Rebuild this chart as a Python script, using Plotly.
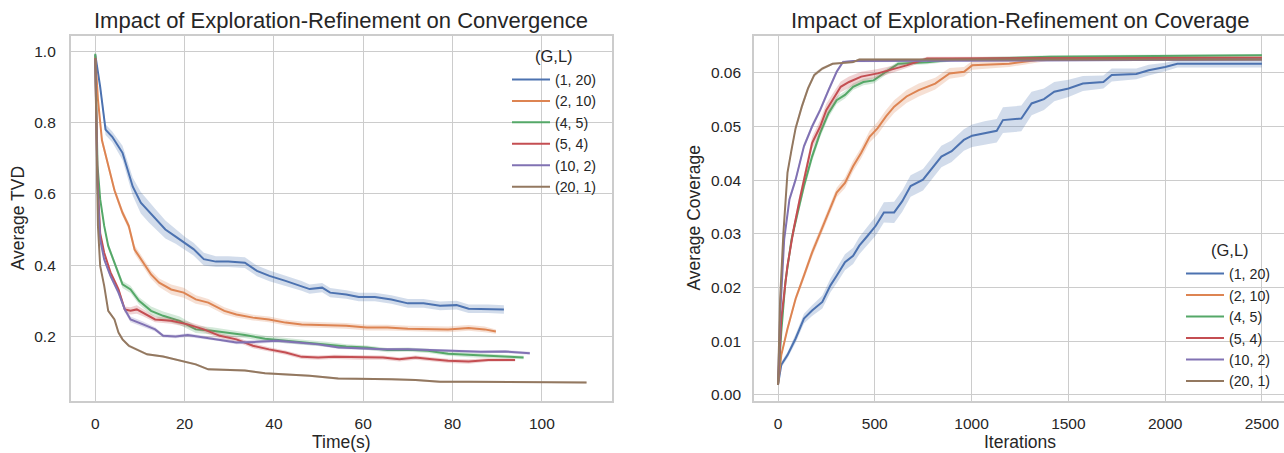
import plotly.graph_objects as go

W, H = 1284, 453
FONT = "Liberation Sans, Arial, sans-serif"
TXT = "#262626"
GRID = "#cccccc"

LABELS = ["(1, 20)", "(2, 10)", "(4, 5)", "(5, 4)", "(10, 2)", "(20, 1)"]
COLORS = ["#4c72b0", "#dd8452", "#55a868", "#c44e52", "#8172b3", "#937860"]
LEGEND_TITLE = "(G,L)"

# ---------------- Left: Average TVD vs Time(s) ----------------
T_1_20 = [0, 1.1, 2.3, 3.8, 6.1, 8.4, 10.2, 12, 13.4, 15.7, 18, 20.2, 22, 24.3, 27, 29.8, 33.5, 36.2, 39, 42.6,
          46.2, 48, 50.8, 52.6, 56.2, 59, 62.6, 66.3, 70, 73.5, 77.2, 80.9, 83.6, 88, 91.5]
TVD_1_20 = [0.99, 0.90, 0.78, 0.76, 0.715, 0.62, 0.575, 0.55, 0.53, 0.50, 0.48, 0.46, 0.445, 0.417, 0.41, 0.41,
            0.407, 0.384, 0.37, 0.356, 0.342, 0.333, 0.337, 0.323, 0.318, 0.311, 0.311, 0.304, 0.293, 0.293,
            0.286, 0.288, 0.278, 0.278, 0.276]
TVD_ERR_1_20 = [0.003, 0.01, 0.015, 0.015, 0.02, 0.025, 0.03, 0.03, 0.028, 0.025, 0.02, 0.018, 0.018, 0.018, 0.015,
                0.015, 0.015, 0.015, 0.015, 0.014, 0.014, 0.013, 0.013, 0.013, 0.012, 0.012, 0.012, 0.012, 0.012,
                0.012, 0.012, 0.012, 0.012, 0.012, 0.012]

T_2_10 = [0, 0.6, 1.5, 2.9, 4.3, 6.1, 7.5, 8.8, 10.7, 12.5, 14.3, 17, 19.8, 22.5, 25.3, 28.9, 31.6, 35.3, 38.9, 42.6,
          46.2, 51.7, 56.2, 60.8, 65.4, 70, 74.5, 79, 83.6, 87.2, 89.7]
TVD_2_10 = [0.986, 0.865, 0.75, 0.68, 0.61, 0.547, 0.51, 0.444, 0.407, 0.374, 0.351, 0.332, 0.323, 0.304, 0.295,
            0.272, 0.262, 0.253, 0.248, 0.239, 0.234, 0.232, 0.23, 0.225, 0.225, 0.222, 0.222, 0.22, 0.224, 0.22,
            0.214]
TVD_ERR_2_10 = [0.003, 0.008, 0.01, 0.01, 0.01, 0.01, 0.01, 0.012, 0.012, 0.012, 0.012, 0.014, 0.014, 0.012, 0.01,
                0.01, 0.009, 0.008, 0.008, 0.008, 0.008, 0.008, 0.008, 0.008, 0.008, 0.008, 0.008, 0.008, 0.008,
                0.008, 0.006]

T_4_5 = [0, 0.5, 1.1, 2, 2.9, 4.3, 6.1, 7.9, 9.8, 12.5, 15.2, 18.9, 22.5, 26.2, 29.8, 33.5, 38, 42.6, 47.1, 51.7,
         56.2, 60.8, 65.4, 70, 74.5, 79, 83.6, 88, 92.7, 95.9]
TVD_4_5 = [0.993, 0.68, 0.585, 0.51, 0.454, 0.407, 0.346, 0.332, 0.30, 0.272, 0.258, 0.244, 0.22, 0.216, 0.211,
           0.204, 0.194, 0.188, 0.183, 0.178, 0.172, 0.169, 0.162, 0.163, 0.16, 0.152, 0.148, 0.146, 0.143, 0.141]
TVD_ERR_4_5 = [0.003, 0.006, 0.006, 0.006, 0.008, 0.008, 0.01, 0.01, 0.01, 0.012, 0.012, 0.012, 0.01, 0.01, 0.009,
               0.008, 0.008, 0.007, 0.007, 0.007, 0.006, 0.006, 0.006, 0.006, 0.006, 0.006, 0.006, 0.006, 0.005,
               0.005]

T_5_4 = [0, 0.5, 1.1, 2, 3.4, 5.2, 6.6, 7.9, 9.3, 10.7, 13.4, 17, 20.7, 24.3, 27.9, 31.6, 35.3, 38.9, 42.6, 46.2,
         49.9, 53.5, 59, 64.4, 68.1, 71.7, 75.4, 79, 83.6, 88, 94]
TVD_5_4 = [0.98, 0.64, 0.49, 0.435, 0.38, 0.332, 0.276, 0.272, 0.276, 0.267, 0.248, 0.244, 0.234, 0.22, 0.202,
           0.192, 0.174, 0.164, 0.155, 0.143, 0.141, 0.143, 0.141, 0.141, 0.136, 0.141, 0.136, 0.132, 0.13, 0.134,
           0.134]
TVD_ERR_5_4 = [0.003, 0.006, 0.006, 0.006, 0.007, 0.008, 0.008, 0.01, 0.012, 0.01, 0.008, 0.008, 0.008, 0.008,
               0.007, 0.007, 0.007, 0.006, 0.006, 0.006, 0.006, 0.006, 0.006, 0.006, 0.006, 0.006, 0.006, 0.006,
               0.006, 0.005, 0.004]

T_10_2 = [0, 0.5, 1.1, 2, 3.4, 5.2, 6.6, 7.9, 10.7, 13.4, 15.2, 18, 20.7, 24.3, 27.9, 31.6, 36.2, 40.7, 45.3, 49.9,
          54.5, 59, 64.4, 70, 75.4, 80.9, 86.3, 91.8, 97.3]
TVD_10_2 = [0.977, 0.62, 0.472, 0.416, 0.37, 0.323, 0.276, 0.248, 0.234, 0.22, 0.202, 0.2, 0.204, 0.197, 0.192,
            0.183, 0.185, 0.188, 0.183, 0.178, 0.169, 0.166, 0.164, 0.164, 0.162, 0.16, 0.157, 0.158, 0.153]
TVD_ERR_10_2 = [0.003, 0.006, 0.006, 0.006, 0.006, 0.007, 0.008, 0.008, 0.008, 0.006, 0.005, 0.005, 0.005, 0.005,
                0.005, 0.005, 0.005, 0.005, 0.004, 0.004, 0.004, 0.004, 0.004, 0.004, 0.004, 0.004, 0.004, 0.004,
                0.004]

T_20_1 = [0, 0.3, 0.6, 1.1, 2, 2.9, 4.3, 5.2, 6.1, 7.5, 9.8, 11.6, 15.2, 18.9, 22.5, 25.3, 28.9, 33.5, 38, 42.6,
          48, 54.4, 60.8, 66.3, 71.7, 77.2, 83.6, 92.7, 101.8, 110]
TVD_20_1 = [0.977, 0.725, 0.51, 0.398, 0.342, 0.272, 0.248, 0.211, 0.192, 0.174, 0.16, 0.15, 0.144, 0.132, 0.122,
            0.108, 0.106, 0.105, 0.097, 0.094, 0.09, 0.082, 0.082, 0.08, 0.078, 0.073, 0.073, 0.073, 0.073, 0.071]
TVD_ERR_20_1 = [0.003, 0.004, 0.004, 0.004, 0.004, 0.004, 0.004, 0.004, 0.004, 0.004, 0.003, 0.003, 0.003, 0.003,
                0.003, 0.003, 0.003, 0.003, 0.003, 0.003, 0.003, 0.003, 0.003, 0.003, 0.003, 0.003, 0.003, 0.003,
                0.003, 0.003]

# ---------------- Right: Average Coverage vs Iterations ----------------
IT_1_20 = [0, 17, 49, 91, 134, 176, 229, 271, 303, 346, 388, 420, 462, 505, 547, 600, 642, 685, 749, 791, 844, 897,
           960, 1003, 1067, 1130, 1162, 1257, 1310, 1374, 1427, 1501, 1575, 1681, 1724, 1851, 1915, 2000, 2063, 2500]
COV_1_20 = [0.00185, 0.0056, 0.0074, 0.0105, 0.0142, 0.0157, 0.0173, 0.0204, 0.0222, 0.0247, 0.0259, 0.0278,
            0.0296, 0.0315, 0.034, 0.034, 0.0361, 0.0389, 0.0401, 0.042, 0.0444, 0.0454, 0.0475, 0.0483, 0.0488,
            0.0492, 0.0512, 0.0515, 0.0543, 0.0551, 0.0565, 0.0571, 0.058, 0.0583, 0.0596, 0.0598, 0.0605, 0.0611,
            0.0617, 0.0617]
COV_ERR_1_20 = [0.0002, 0.0005, 0.0006, 0.0008, 0.0009, 0.001, 0.0012, 0.0013, 0.0014, 0.0015, 0.0015, 0.0016,
                0.0017, 0.0018, 0.0019, 0.002, 0.002, 0.002, 0.002, 0.002, 0.002, 0.002, 0.002, 0.0021, 0.0022,
                0.0022, 0.0024, 0.0024, 0.0022, 0.002, 0.0018, 0.0016, 0.0014, 0.0012, 0.0012, 0.001, 0.001,
                0.0008, 0.0007, 0.0007]

IT_2_10 = [0, 17, 49, 91, 134, 176, 218, 261, 303, 346, 388, 430, 473, 515, 558, 600, 664, 727, 812, 886, 961, 1003,
           1194, 1321, 1406, 2500]
COV_2_10 = [0.00185, 0.0074, 0.0123, 0.0179, 0.0222, 0.0265, 0.0302, 0.034, 0.0377, 0.0395, 0.0426, 0.0451,
            0.0481, 0.0497, 0.0519, 0.0537, 0.0556, 0.0568, 0.058, 0.0599, 0.0602, 0.0614, 0.0617, 0.0623, 0.0627,
            0.0627]
COV_ERR_2_10 = [0.0002, 0.0005, 0.0006, 0.0006, 0.0007, 0.0008, 0.0008, 0.0009, 0.0009, 0.001, 0.001, 0.001,
                0.0011, 0.0012, 0.0012, 0.0012, 0.0012, 0.0012, 0.0011, 0.001, 0.0009, 0.0008, 0.0006, 0.0005,
                0.0004, 0.0004]

IT_4_5 = [0, 17, 38, 70, 102, 134, 176, 218, 261, 303, 346, 388, 441, 494, 558, 621, 770, 918, 1406, 2500]
COV_4_5 = [0.00185, 0.0117, 0.021, 0.029, 0.034, 0.0389, 0.0444, 0.0488, 0.0525, 0.0549, 0.0559, 0.0574, 0.0583,
           0.0586, 0.0602, 0.0617, 0.062, 0.0625, 0.063, 0.0633]
COV_ERR_4_5 = [0.0002, 0.0006, 0.0008, 0.0009, 0.0009, 0.0009, 0.0009, 0.0008, 0.0008, 0.0007, 0.0007, 0.0006,
               0.0006, 0.0006, 0.0005, 0.0004, 0.0004, 0.0003, 0.0003, 0.0002]

IT_5_4 = [0, 17, 49, 81, 112, 144, 176, 218, 250, 293, 324, 367, 430, 515, 579, 664, 770, 2500]
COV_5_4 = [0.00185, 0.0142, 0.0241, 0.0309, 0.0364, 0.042, 0.0469, 0.05, 0.0531, 0.0556, 0.0574, 0.0583, 0.0593,
           0.0599, 0.0605, 0.0614, 0.0627, 0.0628]
COV_ERR_5_4 = [0.0002, 0.0006, 0.0008, 0.0009, 0.001, 0.001, 0.0011, 0.0012, 0.0012, 0.0011, 0.001, 0.001, 0.0009,
               0.0008, 0.0007, 0.0005, 0.0003, 0.0002]

IT_10_2 = [0, 11, 32, 59, 91, 134, 176, 218, 261, 303, 335, 388, 2500]
COV_10_2 = [0.00185, 0.0148, 0.029, 0.0364, 0.0401, 0.0463, 0.05, 0.0531, 0.0568, 0.0602, 0.062, 0.0622, 0.0625]
COV_ERR_10_2 = [0.0002, 0.0005, 0.0006, 0.0006, 0.0006, 0.0006, 0.0005, 0.0005, 0.0005, 0.0004, 0.0003, 0.0002,
                0.0002]

IT_20_1 = [0, 11, 28, 49, 70, 91, 123, 155, 187, 229, 282, 388, 420, 2500]
COV_20_1 = [0.00185, 0.0179, 0.0302, 0.0414, 0.0457, 0.0497, 0.0537, 0.0571, 0.0596, 0.0608, 0.0617, 0.062, 0.0625,
            0.0625]
COV_ERR_20_1 = [0.0002, 0.0005, 0.0006, 0.0006, 0.0006, 0.0006, 0.0006, 0.0005, 0.0004, 0.0003, 0.0002, 0.0002,
                0.0002, 0.0002]

LEFT = [(T_1_20, TVD_1_20, TVD_ERR_1_20), (T_2_10, TVD_2_10, TVD_ERR_2_10), (T_4_5, TVD_4_5, TVD_ERR_4_5),
        (T_5_4, TVD_5_4, TVD_ERR_5_4), (T_10_2, TVD_10_2, TVD_ERR_10_2), (T_20_1, TVD_20_1, TVD_ERR_20_1)]
RIGHT = [(IT_1_20, COV_1_20, COV_ERR_1_20), (IT_2_10, COV_2_10, COV_ERR_2_10), (IT_4_5, COV_4_5, COV_ERR_4_5),
         (IT_5_4, COV_5_4, COV_ERR_5_4), (IT_10_2, COV_10_2, COV_ERR_10_2), (IT_20_1, COV_20_1, COV_ERR_20_1)]


def rgba(hex_color, a):
    h = hex_color.lstrip("#")
    return "rgba(%d,%d,%d,%.2f)" % (int(h[0:2], 16), int(h[2:4], 16), int(h[4:6], 16), a)


fig = go.Figure()
for panel, (xa, ya, leg) in [(LEFT, ("x", "y", "legend")), (RIGHT, ("x2", "y2", "legend2"))]:
    for (xs, ys, es), lab, col in zip(panel, LABELS, COLORS):
        up = [y + e for y, e in zip(ys, es)]
        lo = [y - e for y, e in zip(ys, es)]
        fig.add_trace(go.Scatter(x=list(xs) + list(xs)[::-1], y=up + lo[::-1], fill="toself",
                                 fillcolor=rgba(col, 0.25), line=dict(width=0), mode="lines",
                                 hoverinfo="skip", showlegend=False, xaxis=xa, yaxis=ya))
        fig.add_trace(go.Scatter(x=xs, y=ys, mode="lines", name=lab, line=dict(color=col, width=2),
                                 xaxis=xa, yaxis=ya, legend=leg))

PX = lambda p: p / W
PY = lambda p: 1 - p / H
YDOM = [PY(402.5), PY(36)]

axis_common = dict(showgrid=True, gridcolor=GRID, gridwidth=1, showline=True, linecolor=GRID, linewidth=1.6,
                   zeroline=False, ticks="outside", tickcolor="rgba(0,0,0,0)",
                   tickfont=dict(family=FONT, size=15.5, color=TXT))

legend_common = dict(xanchor="left", yanchor="top", bgcolor="rgba(0,0,0,0)", borderwidth=0, itemwidth=38,
                     font=dict(family=FONT, size=14.2, color=TXT))

fig.update_layout(
    width=W, height=H, margin=dict(l=0, r=0, t=0, b=0),
    paper_bgcolor="white", plot_bgcolor="white",
    font=dict(family=FONT, color=TXT),
    xaxis=dict(domain=[PX(70.7), PX(612)], range=[-5.5, 115.7], dtick=20, tick0=0, anchor="y",
               mirror=True, ticklen=8, **axis_common),
    yaxis=dict(domain=YDOM, range=[0.02, 1.043], dtick=0.2, tick0=0, tickformat=".1f", anchor="x",
               mirror=True, ticklen=10, **axis_common),
    xaxis2=dict(domain=[PX(754), 1.0], range=[-124, 2614], dtick=500, tick0=0, anchor="y2",
                mirror=True, ticklen=8, **axis_common),
    yaxis2=dict(domain=YDOM, range=[-0.0011, 0.0669], dtick=0.01, tick0=0, tickformat=".2f", anchor="x2",
                mirror=False, ticklen=8, **axis_common),
    legend=dict(x=PX(507), y=PY(64), **legend_common),
    legend2=dict(x=PX(1181), y=PY(259), **legend_common),
    showlegend=True,
)

ann = [
    dict(text="Impact of Exploration-Refinement on Convergence", x=PX(341.4), y=PY(20.7), size=22, angle=0),
    dict(text="Impact of Exploration-Refinement on Coverage", x=PX(1020), y=PY(20.7), size=22, angle=0),
    dict(text="Time(s)", x=PX(341.4), y=PY(444), size=17.5, angle=0),
    dict(text="Iterations", x=PX(1020), y=PY(444), size=17.5, angle=0),
    dict(text="Average TVD", x=PX(18.3), y=PY(219), size=17.5, angle=-90),
    dict(text="Average Coverage", x=PX(694.5), y=PY(219), size=17.5, angle=-90),
    dict(text=LEGEND_TITLE, x=PX(554), y=PY(56.7), size=16.5, angle=0),
    dict(text=LEGEND_TITLE, x=PX(1230), y=PY(251), size=16.5, angle=0),
]
for a in ann:
    fig.add_annotation(text=a["text"], x=a["x"], y=a["y"], xref="paper", yref="paper", showarrow=False,
                       xanchor="center", yanchor="middle", textangle=a["angle"],
                       font=dict(family=FONT, size=a["size"], color=TXT))

fig.write_html("out.html")
